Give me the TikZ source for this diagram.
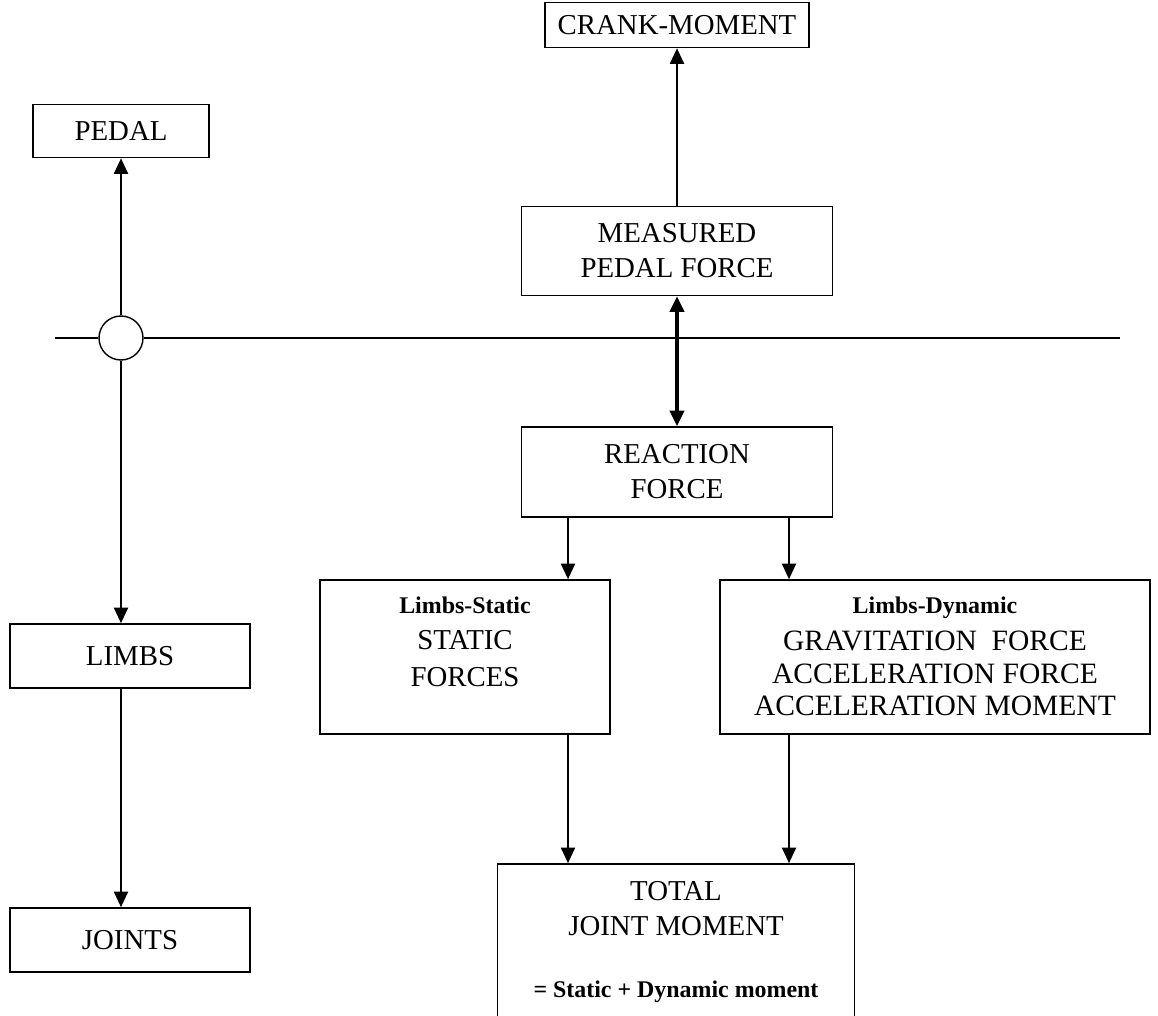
\documentclass[tikz,border=0pt]{standalone}
\usepackage{fontspec}
\setmainfont{Liberation Serif}
\usetikzlibrary{arrows.meta}

\newcommand{\pxu}{0.025cm}
\newcommand{\capfont}{\fontsize{20.5}{25}\selectfont}
\newcommand{\tagfont}{\fontsize{17}{20}\selectfont\bfseries}

\begin{document}
\begin{tikzpicture}[
    x=0.025cm, y=-0.025cm,
    box/.style={draw, rectangle, line width=1.2pt, inner sep=0pt, align=center, font=\capfont},
    txt/.style={inner sep=0pt, align=center, font=\capfont},
    edge/.style={draw, line width=1.2pt, -{Triangle[width=10pt,length=11pt]}},
    biedge/.style={draw, line width=2.4pt, {Triangle[width=10pt,length=11pt]}-{Triangle[width=10pt,length=11pt]}},
    plain/.style={draw, line width=1.2pt}
]
\useasboundingbox (0,0) rectangle (1158,1016);

% Top
\node[box, minimum width=264*\pxu, minimum height=45*\pxu] (crank) at (677,25) {CRANK-MOMENT};
\node[box, minimum width=176*\pxu, minimum height=53*\pxu] (pedal) at (121,131) {PEDAL};
\node[box, minimum width=311*\pxu, minimum height=89*\pxu] (measured) at (677,251) {MEASURED\\PEDAL FORCE};

% Hub on the line
\node[circle, draw, line width=1pt, inner sep=0pt, minimum size=44*\pxu] (hub) at (121,338) {};
\coordinate (lineL) at (55,338);
\coordinate (lineR) at (1120,338);

% Middle
\node[box, minimum width=311*\pxu, minimum height=90*\pxu] (reaction) at (677,472) {REACTION\\FORCE};
\node[box, minimum width=290*\pxu, minimum height=154*\pxu] (static) at (465,657) {};
\node[txt, anchor=north, font=\fontsize{20.5}{26}\selectfont] (statictxt) at ([yshift=-17*\pxu]static.north)
    {{\tagfont Limbs-Static}\\STATIC\\FORCES};
\node[box, minimum width=430*\pxu, minimum height=154*\pxu] (dynamic) at (935,657) {};
\node[txt, anchor=north, font=\fontsize{21}{23}\selectfont] (dynamictxt) at ([yshift=-17*\pxu]dynamic.north)
    {{\tagfont Limbs-Dynamic}\\[4pt]GRAVITATION\ \ FORCE\\ACCELERATION FORCE\\ACCELERATION MOMENT};

% Left column
\node[box, minimum width=240*\pxu, minimum height=64*\pxu] (limbs) at (130,656) {LIMBS};
\node[box, minimum width=240*\pxu, minimum height=64*\pxu] (joints) at (130,940) {JOINTS};

% Bottom
\node[box, minimum width=357*\pxu, minimum height=180*\pxu] (total) at (676,954) {};
\node[txt, anchor=north] (totaltxt) at ([yshift=-18*\pxu]total.north)
    {TOTAL\\JOINT MOMENT\\[19pt]{\tagfont = Static + Dynamic moment}};

\coordinate (colS) at (568,0);
\coordinate (colD) at (789,0);

% Edges
\draw[plain] (lineL) -- (hub.west);
\draw[plain] (hub.east) -- (lineR);
\draw[edge] (hub) -- (pedal);
\draw[edge] (measured) -- (crank);
\draw[biedge] (measured) -- (reaction);
\draw[edge] (hub.south) -- (hub.south |- limbs.north);
\draw[edge] (limbs.south -| hub) -- (joints.north -| hub);
\draw[edge] (reaction.south -| colS) -- (static.north -| colS);
\draw[edge] (reaction.south -| colD) -- (dynamic.north -| colD);
\draw[edge] (static.south -| colS) -- (total.north -| colS);
\draw[edge] (dynamic.south -| colD) -- (total.north -| colD);
\end{tikzpicture}
\end{document}
